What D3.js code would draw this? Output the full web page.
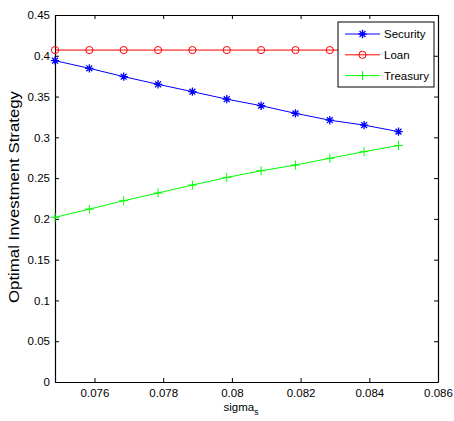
<!DOCTYPE html>
<html><head><meta charset="utf-8">
<script src="https://cdn.jsdelivr.net/npm/d3@7"></script>
<style>body{margin:0;background:#fff;} text{font-family:Arial,"Liberation Sans",sans-serif;}</style>
</head><body>
<svg id="c" width="454" height="421"></svg>
<script>
const sigmaS = [0.07485,0.07585,0.07685,0.07785,0.07885,0.07985,0.08085,0.08185,0.08285,0.08385,0.08485];
const security = [0.394,0.3846,0.3744,0.365,0.356,0.3468,0.3388,0.3294,0.321,0.315,0.307];
const loan = [0.407,0.407,0.407,0.407,0.407,0.407,0.407,0.407,0.407,0.407,0.407];
const treasury = [0.2019,0.212,0.2223,0.2317,0.2415,0.2508,0.259,0.266,0.2743,0.2824,0.290];
const xTicks = [0.076,0.078,0.08,0.082,0.084,0.086];
const yTicks = [0,0.05,0.1,0.15,0.2,0.25,0.3,0.35,0.4,0.45];
const seriesNames = ["Security","Loan","Treasury"];
const seriesColors = ["#0000ff","#ff0000","#00ff00"];

const svg = d3.select("#c");
const L=55, R=438, T=15, B=382;
const x = d3.scaleLinear().domain([0.07485,0.086]).range([L,R]);
const y = d3.scaleLinear().domain([0,0.45]).range([B,T]);

const g = svg.append("g");
const fmt = d => String(+d.toFixed(3));
const ax = g.append("g").attr("transform",`translate(0,${B})`).call(d3.axisBottom(x).tickValues(xTicks).tickFormat(fmt).tickSizeInner(-4).tickSizeOuter(0).tickPadding(7));
const ay = g.append("g").attr("transform",`translate(${L},0)`).call(d3.axisLeft(y).tickValues(yTicks).tickFormat(fmt).tickSizeInner(-4).tickSizeOuter(0).tickPadding(5));
const axT = g.append("g").attr("transform",`translate(0,${T})`).call(d3.axisTop(x).tickValues(xTicks).tickFormat("").tickSizeInner(-4).tickSizeOuter(0));
const ayR = g.append("g").attr("transform",`translate(${R},0)`).call(d3.axisRight(y).tickValues(yTicks).tickFormat("").tickSizeInner(-4).tickSizeOuter(0));
[ax,ay,axT,ayR].forEach(a=>{a.select(".domain").attr("stroke","#000").attr("stroke-width",1.2);a.selectAll(".tick line").attr("stroke","#000");a.selectAll("text").attr("font-size","11.5px").attr("fill","#000").attr("font-family","Arial, Liberation Sans, sans-serif");});

const data = [security, loan, treasury];
const line = d3.line().x((d,i)=>x(sigmaS[i])).y(d=>y(d));
function marker(sel, k, cx, cy, col){
  if(k===0){
    const s=4.2;
    sel.append("path").attr("d",`M${cx-s},${cy}H${cx+s}M${cx},${cy-s}V${cy+s}M${cx-s*0.7},${cy-s*0.7}L${cx+s*0.7},${cy+s*0.7}M${cx-s*0.7},${cy+s*0.7}L${cx+s*0.7},${cy-s*0.7}`).attr("stroke",col).attr("stroke-width",1.3).attr("fill","none");
  } else if(k===1){
    sel.append("ellipse").attr("cx",cx).attr("cy",cy).attr("rx",3.6).attr("ry",3.6).attr("stroke",col).attr("stroke-width",1).attr("fill","none");
  } else {
    const s=4.5;
    sel.append("path").attr("d",`M${cx-s},${cy}H${cx+s}M${cx},${cy-s}V${cy+s}`).attr("stroke",col).attr("stroke-width",1).attr("fill","none");
  }
}
data.forEach((arr,k)=>{
  g.append("path").datum(arr).attr("d",line).attr("fill","none").attr("stroke",seriesColors[k]).attr("stroke-width",1);
  arr.forEach((v,i)=>marker(g,k,x(sigmaS[i]),y(v),seriesColors[k]));
});

const lg = svg.append("g");
lg.append("rect").attr("x",338).attr("y",22).attr("width",96).attr("height",65).attr("fill","#fff").attr("stroke","#000").attr("stroke-width",1);
seriesNames.forEach((n,k)=>{
  const yy = 34 + k*20.8;
  lg.append("line").attr("x1",345).attr("x2",380).attr("y1",yy).attr("y2",yy).attr("stroke",seriesColors[k]).attr("stroke-width",1);
  marker(lg,k,362.5,yy,seriesColors[k]);
  lg.append("text").attr("x",384).attr("y",yy+4).attr("font-size","11.5px").text(n);
});

const xl = svg.append("text").attr("x",241).attr("y",411).attr("text-anchor","middle").attr("font-size","11.5px");
xl.append("tspan").text("sigma");
xl.append("tspan").attr("dy",4).attr("font-size","8.5px").text("s");
svg.append("text").attr("transform","translate(19,197) rotate(-90)").attr("text-anchor","middle").attr("font-size","14.5px")
  .attr("textLength",212).attr("lengthAdjust","spacingAndGlyphs").text("Optimal Investment Strategy");
</script>
</body></html>
